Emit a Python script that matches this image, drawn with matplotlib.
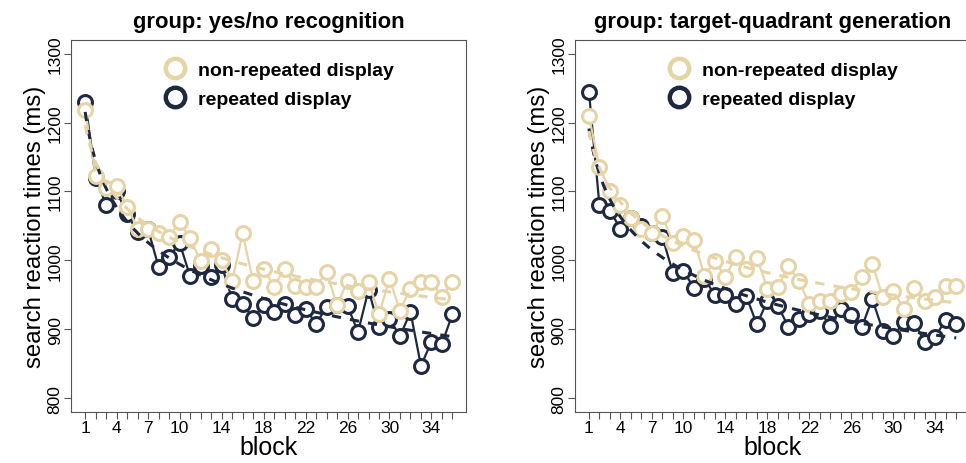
import numpy as np
import matplotlib.pyplot as plt
from matplotlib.lines import Line2D

plt.rcParams["font.family"] = ["Liberation Sans", "DejaVu Sans"]

beige = "#E6D4A6"
navy = "#1E2940"

blocks = np.arange(1, 37)
tick_blocks = [1, 4, 7, 10, 14, 18, 22, 26, 30, 34]

# group: yes/no recognition
yn_nonrep = [1218, 1123, 1105, 1108, 1078, 1046, 1046, 1039, 1034, 1056, 1032, 999,
             1017, 1000, 970, 1039, 970, 988, 962, 988, 963, 962, 962, 983,
             935, 970, 956, 969, 922, 973, 927, 959, 969, 969, 947, 969]
yn_rep = [1230, 1120, 1080, 1100, 1067, 1041, 1045, 990, 1005, 1025, 977, 992,
          976, 993, 944, 937, 916, 935, 925, 937, 920, 930, 908, 932,
          935, 934, 896, 957, 903, 915, 890, 925, 847, 882, 879, 922]

# group: target-quadrant generation
tq_nonrep = [1209, 1136, 1101, 1080, 1062, 1045, 1040, 1065, 1025, 1035, 1030, 978,
             999, 976, 1005, 988, 1004, 959, 962, 992, 970, 937, 941, 941,
             951, 954, 976, 995, 947, 956, 930, 960, 941, 947, 963, 963]
tq_rep = [1245, 1080, 1072, 1046, 1062, 1050, 1040, 1034, 982, 985, 960, 973,
          950, 950, 937, 948, 907, 941, 934, 904, 915, 922, 926, 905,
          930, 920, 903, 944, 898, 890, 910, 909, 882, 889, 914, 908]

panels = [
    ("group: yes/no recognition", yn_nonrep, yn_rep),
    ("group: target-quadrant generation", tq_nonrep, tq_rep),
]


def power_fit(x, y, x_new):
    # power function fit in log-log space
    b, a = np.polyfit(np.log(x), np.log(y), 1)
    return np.exp(a) * x_new ** b


fig = plt.figure(figsize=(9.66, 4.64), dpi=100)
axes = [fig.add_axes([0.0735, 0.110, 0.409, 0.802]),
        fig.add_axes([0.595, 0.110, 0.409, 0.802])]

for ax, (title, nonrep, rep) in zip(axes, panels):
    xs = np.linspace(1, 36, 300)
    ax.plot(blocks, rep, color=navy, lw=1.6, marker="o", ms=10, mew=2.2,
            mfc="white", mec=navy, zorder=3)
    ax.plot(blocks, nonrep, color=beige, lw=1.6, marker="o", ms=10, mew=2.2,
            mfc="white", mec=beige, zorder=4)
    ax.plot(xs, power_fit(blocks, np.array(rep), xs), color=navy, lw=2.2,
            ls=(0, (3, 3)), zorder=5)
    ax.plot(xs, power_fit(blocks, np.array(nonrep), xs), color=beige, lw=2.2,
            ls=(0, (3, 3)), zorder=5)

    ax.set_xlim(-0.35, 37.3)
    ax.set_ylim(780, 1320)
    ax.set_xticks(blocks, minor=True)
    ax.set_xticks(tick_blocks)
    ax.set_yticks([800, 900, 1000, 1100, 1200, 1300])
    ax.tick_params(axis="both", which="both", direction="out", color="#555555",
                   length=5, width=0.8, labelsize=12.5)
    ax.tick_params(axis="y", labelrotation=90, pad=1)
    ax.tick_params(axis="x", pad=1)
    for lab in ax.get_yticklabels():
        lab.set_va("center")
    for sp in ax.spines.values():
        sp.set_color("#555555")
        sp.set_linewidth(0.8)

    ax.set_title(title, fontsize=15.8, fontweight="bold", pad=9)
    ax.set_xlabel("block", fontsize=18, labelpad=0)
    ax.set_ylabel("search reaction times (ms)", fontsize=17.3, labelpad=1)

    handles = [
        Line2D([], [], ls="none", marker="o", ms=14, mew=3.2, mfc="white",
               mec=beige, label="non-repeated display"),
        Line2D([], [], ls="none", marker="o", ms=14, mew=3.2, mfc="white",
               mec=navy, label="repeated display"),
    ]
    leg = ax.legend(handles=handles, loc="upper left",
                    bbox_to_anchor=(0.17, 0.99), frameon=False,
                    handletextpad=0.2, labelspacing=0.6,
                    prop={"size": 14, "weight": "bold"})

fig.savefig("out.png", dpi=100)
